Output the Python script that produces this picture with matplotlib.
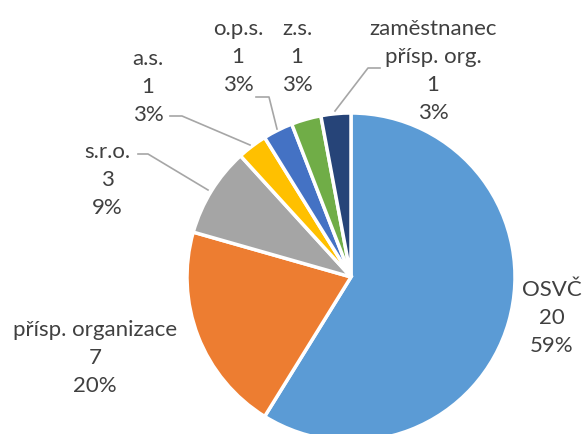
import matplotlib.pyplot as plt

labels = ['OSVČ', 'přísp. organizace', 's.r.o.', 'a.s.', 'o.p.s.', 'z.s.', 'zaměstnanec\npřísp. org.']
values = [20, 7, 3, 1, 1, 1, 1]
pct_text = ['59%', '20%', '9%', '3%', '3%', '3%', '3%']
colors = ['#5B9BD5', '#ED7D31', '#A5A5A5', '#FFC000', '#4472C4', '#70AD47', '#264478']

# label anchor (centre of text block) in pixel coords, y from top
label_pos = [(552, 318), (95, 358), (107, 180), (148, 87), (238, 57), (297, 57), (433, 71)]
# leader lines (pixel coords, y from top)
leaders = [None, None,
           [(138, 155), (148, 155), (208, 191)],
           [(170, 117), (182, 117), (250, 146)],
           [(256, 98), (269, 98), (277, 130)],
           None,
           [(380, 69), (368, 69), (335, 112)]]

H = 435
fig = plt.figure(figsize=(5.82, 4.35), dpi=100)
ax = fig.add_axes([0, 0, 1, 1])

ax.pie(values, colors=colors, startangle=90, counterclock=False,
       center=(351, H - 278), radius=164, frame=True,
       wedgeprops=dict(edgecolor='white', linewidth=2.5))
ax.set_xlim(0, 582)
ax.set_ylim(0, H)
ax.set_aspect('equal')
ax.axis('off')

for lab, v, p, (x, y) in zip(labels, values, pct_text, label_pos):
    ax.text(x, H - y, f'{lab}\n{v}\n{p}', ha='center', va='center',
            fontsize=16, color='#404040', family='Lato', linespacing=1.48)

for seg in leaders:
    if seg:
        xs = [s[0] for s in seg]
        ys = [H - s[1] for s in seg]
        ax.plot(xs, ys, color='#A6A6A6', lw=1.2)

fig.savefig('out.png', dpi=100)
